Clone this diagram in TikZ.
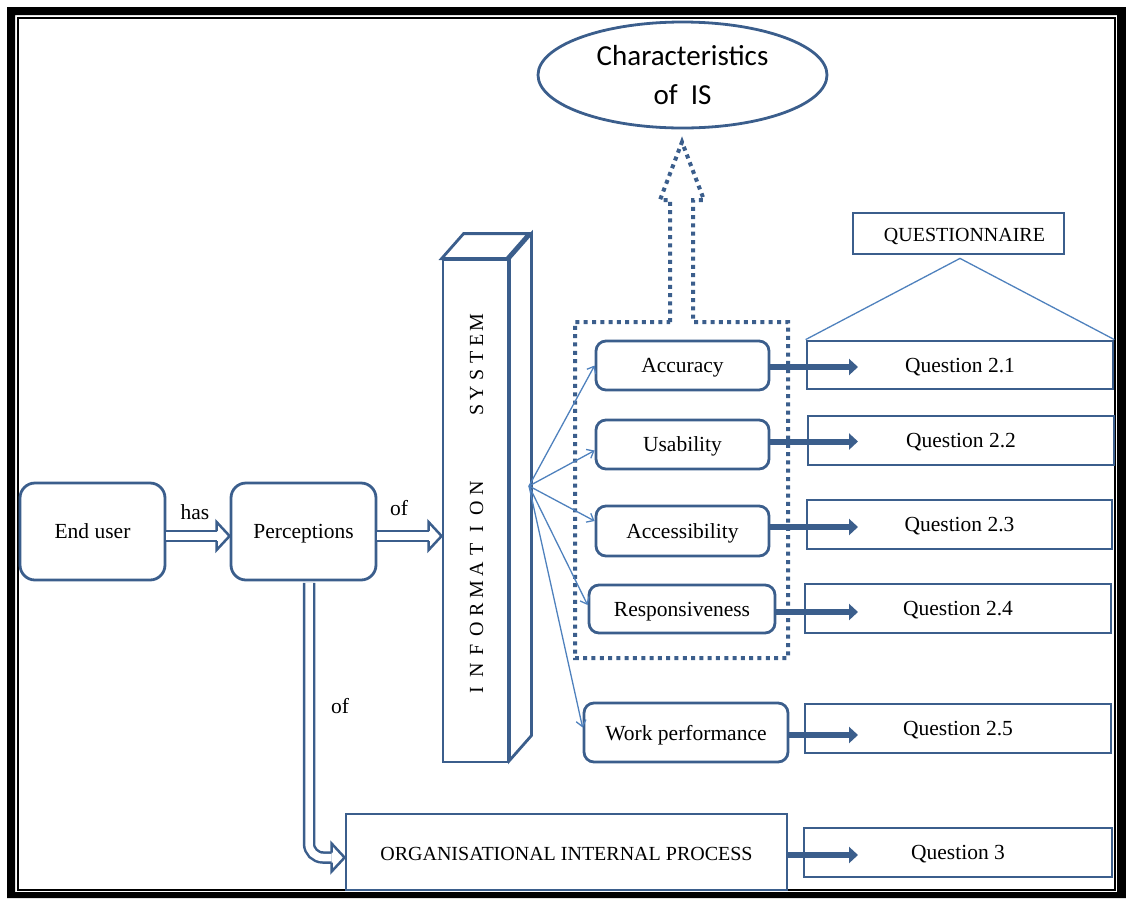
\documentclass[tikz,border=0pt]{standalone}
\usepackage{fontspec}
\setmainfont{Liberation Serif}
\newfontfamily\calibrifont{Carlito}
\usetikzlibrary{arrows.meta,calc,shapes.geometric}
\definecolor{boxblue}{RGB}{59,94,140}
\definecolor{lineblue}{RGB}{79,129,189}

% one fixed-pitch cell per letter of the vertical label
\newcommand\islet[1]{\makebox[20.2pt]{#1}}
\newcommand\sylet[1]{\makebox[17.6pt]{#1}}

% hollow head of a block arrow whose tip is #1 (pointing right)
\newcommand\dblhead[1]{%
  \draw[dblhead] ($(#1)+(-13,-5)$) -- ++(0,-9) -- (#1) -- ++(-13,14) -- ++(0,-9);}

\begin{document}
\begin{tikzpicture}[x=1pt,y=-1pt,
  every node/.style={inner sep=0pt, font=\fontsize{21.5}{25}\selectfont},
  caps/.style={font=\fontsize{20}{24}\selectfont},
  rbox/.style={draw=boxblue, line width=2.8pt, rounded corners=10pt, fill=white, text depth=0pt},
  sbox/.style={draw=boxblue, line width=2.8pt, fill=white, text depth=0pt},
  isline/.style={draw=boxblue, line width=2.8pt, line join=miter},
  dbl/.style={draw=boxblue, line width=2.5pt, double=white, double distance=7.5pt},
  dblhead/.style={draw=boxblue, line width=2.5pt, line join=miter},
  qarrow/.style={draw=boxblue, line width=6pt, -{Triangle[length=9pt,width=16pt]}},
  fan/.style={draw=lineblue, line width=1.3pt, -{Straight Barb[length=6pt,width=10pt]}},
  dotted box/.style={draw=boxblue, line width=4pt, dash pattern=on 4pt off 4.3pt},
]
\useasboundingbox (0,0) rectangle (1126,898);

% double frame
\fill[black, even odd rule] (7,7) rectangle (1126,898) (15,15) rectangle (1117,892);
\draw[black, line width=2pt] (18,18) rectangle (1115,890);

% characteristics ellipse and dotted grouping arrow
\node[draw=boxblue, line width=2.8pt, ellipse, minimum width=289pt, minimum height=106pt,
      align=center, font=\calibrifont\fontsize{29}{39}\selectfont] (char) at (682.5,75)
      {Characteristics\\of~ IS};
\draw[dotted box] (670,322) -- (670,200) -- (660,200) -- (682,142) -- (704,200)
  -- (693,200) -- (693,322) -- (788,322) -- (788,658) -- (575,658) -- (575,322) -- cycle;

% left boxes
\node[rbox, rounded corners=15pt, minimum width=145pt, minimum height=97pt] (eu) at (92.5,531.5) {End user};
\node[rbox, rounded corners=15pt, minimum width=145pt, minimum height=97pt] (perc) at (303.5,531.5) {Perceptions};

% information system block
\node[sbox, minimum width=65pt, minimum height=502pt] (isfront) at (475.5,511) {};
\draw[isline, fill=white] (isfront.north west) -- ++(22,-25) -- ++(65,0) -- ++(-22,25) -- cycle;
\draw[isline, fill=white] (isfront.north east) -- ++(22,-25) -- ++(0,502) -- ++(-22,25) -- cycle;
\node[rotate=90, font=\fontsize{20}{24}\selectfont] (istext) at (476.5,507)
  {\islet{I}\islet{N}\islet{F}\islet{O}\islet{R}\islet{M}\islet{A}\islet{T}\islet{I}\islet{O}\islet{N}%
   \hspace{59pt}\sylet{S}\sylet{Y}\sylet{S}\sylet{T}\sylet{E}\sylet{M}};
\coordinate (fansrc) at (529,486);

% characteristic boxes
\node[rbox, minimum width=173pt, minimum height=49pt] (acc) at (682.5,365.5) {Accuracy};
\node[rbox, minimum width=173pt, minimum height=49pt] (usa) at (682.5,444.5) {Usability};
\node[rbox, minimum width=173pt, minimum height=50pt] (acs) at (682.5,531) {Accessibility};
\node[rbox, minimum width=186pt, minimum height=48pt] (resp) at (682,609) {Responsiveness};
\node[rbox, minimum width=204pt, minimum height=59pt] (wp) at (686,732.5) {Work performance};

% questionnaire boxes
\node[sbox, caps, minimum width=211pt, minimum height=41pt] (quest) at (958.5,233.5) {\raisebox{-2.5pt}{\hspace*{12pt}QUESTIONNAIRE}};
\node[sbox, minimum width=306pt, minimum height=48pt] (q21) at (960,365) {Question 2.1};
\node[sbox, minimum width=306pt, minimum height=49pt] (q22) at (961,440.5) {Question 2.2};
\node[sbox, minimum width=305pt, minimum height=49pt] (q23) at (959.5,524.5) {Question 2.3};
\node[sbox, minimum width=306pt, minimum height=49pt] (q24) at (958,608.5) {Question 2.4};
\node[sbox, minimum width=306pt, minimum height=49pt] (q25) at (958,728.5) {Question 2.5};
\node[sbox, minimum width=308pt, minimum height=49pt] (q3) at (958,852.5) {Question 3};
\node[sbox, caps, minimum width=441pt, minimum height=76pt] (org) at (566.5,852) {\raisebox{-3pt}{ORGANISATIONAL INTERNAL PROCESS}};

% questionnaire fan
\coordinate (qtop) at ($(quest.south)+(1.5,3)$);
\draw[lineblue, line width=1.3pt] (q21.north west) -- (qtop) -- (q21.north east);

% block arrows with labels
\coordinate (has1) at ($(eu.east)+(0,4.5)$);
\coordinate (has2) at ($(perc.west)+(0,4.5)$);
\draw[dbl] (has1) -- ($(has2)+(-13,0)$);
\dblhead{has2}
\node (haslbl) at (195,512) {has};

\coordinate (of1) at ($(perc.east)+(0,4.5)$);
\coordinate (of2) at (of1 -| isfront.west);
\draw[dbl] (of1) -- ($(of2)+(-13,0)$);
\dblhead{of2}
\node (oflbl) at (399,508) {of};

\coordinate (down1) at ($(perc.south)+(5.5,1.5)$);
\coordinate (down2) at ($(org.west)+(0,5.5)$);
\draw[dbl, rounded corners=14pt] (down1) |- ($(down2)+(-13,0)$);
\dblhead{down2}
\node (downlbl) at (340,706) {of};

% thin arrows from the information system
\draw[fan] (fansrc) -- (acc.west);
\draw[fan] (fansrc) -- ($(usa.west)+(0,6)$);
\draw[fan] (fansrc) -- ($(acs.west)+(0,-10)$);
\draw[fan] (fansrc) -- ($(resp.west)+(0,-4)$);
\draw[fan] (fansrc) -- ($(wp.west)+(0,-5)$);

% thick arrows to the questions
\coordinate (qtip) at (858,0);
\draw[qarrow] ($(acc.east)+(0,1.5)$) -- (qtip |- {$(acc.east)+(0,1.5)$});
\draw[qarrow] ($(usa.east)+(0,-3)$) -- (qtip |- {$(usa.east)+(0,-3)$});
\draw[qarrow] ($(acs.east)+(0,-4)$) -- (qtip |- {$(acs.east)+(0,-4)$});
\draw[qarrow] ($(resp.east)+(0,3)$) -- (qtip |- {$(resp.east)+(0,3)$});
\draw[qarrow] ($(wp.east)+(0,2.5)$) -- (qtip |- {$(wp.east)+(0,2.5)$});
\draw[qarrow] ($(org.east)+(0,3)$) -- (qtip |- {$(org.east)+(0,3)$});
\end{tikzpicture}
\end{document}
